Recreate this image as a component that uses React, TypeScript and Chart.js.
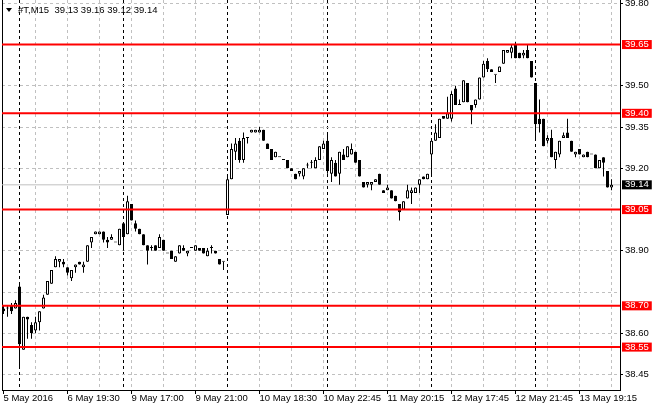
import { useEffect, useRef } from "react"
import { Chart, registerables } from "chart.js"

Chart.register(...registerables)

// #T, M15 candles, one entry per bar (bar index = position on the time axis)
const OPEN = [
  38.69, 38.69, 38.70, 38.69, 38.77, 38.54, 38.66, 38.63, 38.61, 38.64,
  38.69, 38.74, 38.78, 38.84, 38.86, 38.86, 38.84, 38.80, 38.84, 38.86,
  38.84, 38.86, 38.93, 38.96, 38.96, 38.97, 38.94, 38.94, 38.93, 38.92,
  39.00, 38.96, 39.07, 39.00, 38.98, 38.96, 38.92, 38.91, 38.92, 38.91,
  38.94, 38.89, 38.90, 38.86, 38.89, 38.91, 38.89, 38.91, 38.90, 38.91,
  38.91, 38.88, 38.91, 38.90, 38.87, 38.86, 39.03, 39.16, 39.26, 39.30,
  39.23, 39.31, 39.33, 39.33, 39.33, 39.34, 39.29, 39.27, 39.24, 39.24,
  39.23, 39.23, 39.20, 39.18, 39.18, 39.17, 39.21, 39.22, 39.20, 39.23,
  39.27, 39.30, 39.18, 39.22, 39.18, 39.25, 39.24, 39.25, 39.26, 39.23,
  39.15, 39.14, 39.14, 39.15, 39.18, 39.12, 39.12, 39.12, 39.10, 39.07,
  39.05, 39.09, 39.11, 39.11, 39.14, 39.17, 39.16, 39.25, 39.30, 39.31,
  39.39, 39.38, 39.38, 39.49, 39.43, 39.44, 39.51, 39.43, 39.43, 39.45,
  39.53, 39.59, 39.56, 39.54, 39.55, 39.58, 39.62, 39.62, 39.65, 39.62,
  39.61, 39.63, 39.59, 39.51, 39.38, 39.38, 39.30, 39.31, 39.23, 39.25,
  39.31, 39.33, 39.30, 39.25, 39.27, 39.24, 39.26, 39.25, 39.25, 39.20,
  39.24, 39.19, 39.13,
]
const HIGH = [
  38.70, 38.70, 38.71, 38.72, 38.78, 38.66, 38.66, 38.64, 38.66, 38.68,
  38.74, 38.79, 38.83, 38.88, 38.87, 38.87, 38.84, 38.83, 38.85, 38.86,
  38.86, 38.92, 38.95, 38.97, 38.97, 38.97, 38.95, 38.96, 38.93, 38.98,
  39.00, 39.10, 39.07, 39.01, 38.98, 38.96, 38.92, 38.92, 38.92, 38.96,
  38.94, 38.89, 38.90, 38.88, 38.92, 38.92, 38.90, 38.91, 38.92, 38.91,
  38.91, 38.91, 38.92, 38.90, 38.87, 38.86, 39.17, 39.29, 39.31, 39.31,
  39.33, 39.31, 39.34, 39.34, 39.35, 39.34, 39.29, 39.27, 39.26, 39.24,
  39.23, 39.23, 39.20, 39.18, 39.19, 39.20, 39.22, 39.23, 39.24, 39.28,
  39.30, 39.33, 39.24, 39.23, 39.26, 39.27, 39.28, 39.29, 39.26, 39.23,
  39.15, 39.15, 39.15, 39.16, 39.18, 39.12, 39.14, 39.12, 39.10, 39.07,
  39.08, 39.14, 39.13, 39.13, 39.16, 39.17, 39.18, 39.30, 39.36, 39.38,
  39.39, 39.46, 39.48, 39.50, 39.45, 39.52, 39.51, 39.43, 39.45, 39.53,
  39.59, 39.60, 39.56, 39.54, 39.57, 39.63, 39.63, 39.65, 39.66, 39.62,
  39.63, 39.65, 39.59, 39.51, 39.45, 39.38, 39.32, 39.34, 39.26, 39.30,
  39.33, 39.38, 39.30, 39.26, 39.27, 39.25, 39.26, 39.25, 39.25, 39.23,
  39.24, 39.19, 39.16,
]
const LOW = [
  38.67, 38.66, 38.67, 38.69, 38.47, 38.54, 38.58, 38.58, 38.60, 38.61,
  38.69, 38.74, 38.78, 38.84, 38.84, 38.84, 38.81, 38.79, 38.82, 38.85,
  38.82, 38.86, 38.91, 38.96, 38.96, 38.93, 38.91, 38.94, 38.93, 38.92,
  38.90, 38.96, 39.01, 38.97, 38.96, 38.92, 38.85, 38.90, 38.90, 38.91,
  38.90, 38.89, 38.87, 38.86, 38.89, 38.90, 38.88, 38.91, 38.90, 38.90,
  38.89, 38.88, 38.89, 38.89, 38.85, 38.83, 39.03, 39.16, 39.23, 39.22,
  39.22, 39.29, 39.33, 39.33, 39.33, 39.30, 39.27, 39.23, 39.24, 39.24,
  39.23, 39.20, 39.19, 39.16, 39.17, 39.16, 39.20, 39.20, 39.20, 39.23,
  39.27, 39.18, 39.15, 39.17, 39.14, 39.23, 39.24, 39.25, 39.22, 39.17,
  39.13, 39.13, 39.12, 39.15, 39.14, 39.11, 39.12, 39.09, 39.08, 39.01,
  39.05, 39.09, 39.07, 39.11, 39.11, 39.16, 39.16, 39.17, 39.30, 39.31,
  39.38, 39.38, 39.37, 39.43, 39.43, 39.44, 39.44, 39.36, 39.42, 39.45,
  39.53, 39.55, 39.55, 39.51, 39.55, 39.58, 39.62, 39.60, 39.60, 39.60,
  39.60, 39.60, 39.53, 39.31, 39.33, 39.28, 39.29, 39.24, 39.20, 39.24,
  39.31, 39.31, 39.26, 39.24, 39.25, 39.24, 39.24, 39.25, 39.20, 39.20,
  39.17, 39.13, 39.12,
]
const CLOSE = [
  38.68, 38.69, 38.68, 38.71, 38.56, 38.66, 38.65, 38.60, 38.64, 38.68,
  38.73, 38.79, 38.83, 38.87, 38.87, 38.85, 38.82, 38.83, 38.85, 38.85,
  38.85, 38.92, 38.95, 38.97, 38.97, 38.94, 38.93, 38.95, 38.93, 38.98,
  38.95, 39.08, 39.01, 38.98, 38.96, 38.92, 38.90, 38.91, 38.90, 38.95,
  38.90, 38.89, 38.87, 38.88, 38.92, 38.90, 38.90, 38.91, 38.92, 38.90,
  38.89, 38.90, 38.91, 38.89, 38.85, 38.86, 39.16, 39.27, 39.29, 39.23,
  39.31, 39.31, 39.34, 39.34, 39.34, 39.30, 39.27, 39.23, 39.26, 39.24,
  39.23, 39.20, 39.19, 39.16, 39.19, 39.20, 39.21, 39.22, 39.23, 39.28,
  39.29, 39.19, 39.23, 39.17, 39.26, 39.23, 39.28, 39.27, 39.22, 39.17,
  39.13, 39.15, 39.15, 39.16, 39.14, 39.11, 39.13, 39.09, 39.08, 39.04,
  39.08, 39.12, 39.12, 39.13, 39.16, 39.16, 39.18, 39.30, 39.33, 39.38,
  39.38, 39.40, 39.47, 39.43, 39.43, 39.52, 39.44, 39.41, 39.45, 39.53,
  39.58, 39.56, 39.55, 39.54, 39.57, 39.63, 39.63, 39.64, 39.60, 39.60,
  39.62, 39.60, 39.53, 39.36, 39.36, 39.28, 39.31, 39.24, 39.26, 39.30,
  39.32, 39.31, 39.26, 39.26, 39.25, 39.25, 39.24, 39.25, 39.20, 39.23,
  39.22, 39.13, 39.14,
]

// time axis
const GRID_BARS = [0, 8, 16, 24, 32, 40, 48, 56, 64, 72, 80, 88, 96, 104, 112, 120, 128, 136, 144, 152]
const DAY_START_BARS = [4, 30, 56, 81, 107, 133]
const LABEL_BARS = [0, 16, 32, 48, 64, 80, 96, 112, 128, 144]
const TIME_LABELS = [
  "5 May 2016", "6 May 19:30", "9 May 17:00", "9 May 21:00", "10 May 18:30",
  "10 May 22:45", "11 May 20:15", "12 May 17:45", "12 May 21:45", "13 May 19:15",
]

// price axis
const PRICE_GRID = [39.8, 39.65, 39.5, 39.35, 39.2, 39.05, 38.9, 38.75, 38.6, 38.45]
const HIDDEN_PRICES = [38.75]
const LEVELS = [39.65, 39.4, 39.05, 38.7, 38.55]
const BID = 39.14

const TITLE = "#T,M15  39.13 39.16 39.12 39.14"

const X_MIN = -0.375
const X_MAX = 154.125
const Y_MIN = 38.394
const Y_MAX = 39.812

const FONT = { family: "'Liberation Sans', Arial, sans-serif", size: 9.5, lineHeight: 0.95 }
const GRID_GRAY = "#c0c0c0"

const near = (a: number, b: number) => Math.abs(a - b) < 1e-6
const inList = (list: number[], v: number) => list.some((x) => near(x, v))

export default function App() {
  const canvasRef = useRef<HTMLCanvasElement>(null)

  useEffect(() => {
    const canvas = canvasRef.current
    if (!canvas) return

    const bodies = OPEN.map((o, i) => ({ x: i, y: [o, CLOSE[i]] }))
    const wicks = LOW.map((l, i) => ({ x: i, y: [l, HIGH[i]] }))
    const bodyFill = OPEN.map((o, i) => (CLOSE[i] > o ? "#ffffff" : "#000000"))

    const xTicks = [...new Set([...GRID_BARS, ...DAY_START_BARS])].sort((a, b) => a - b)
    const yTicks = [...PRICE_GRID, ...LEVELS, BID]
      .filter((v, i, arr) => arr.findIndex((w) => near(w, v)) === i)
      .sort((a, b) => a - b)

    const levelSets: any[] = LEVELS.map((lvl) => ({
      type: "line",
      data: [
        { x: X_MIN, y: lvl },
        { x: X_MAX, y: lvl },
      ],
      borderColor: "#ff0000",
      borderWidth: 2,
      pointRadius: 0,
      order: 0,
    }))

    const chart = new Chart(canvas, {
      type: "bar",
      data: {
        datasets: [
          ...levelSets,
          {
            type: "bar",
            data: bodies as any,
            backgroundColor: bodyFill,
            borderColor: "#000000",
            borderWidth: 1,
            borderSkipped: false,
            inflateAmount: 0,
            minBarLength: 1,
            maxBarThickness: 3,
            barPercentage: 1,
            categoryPercentage: 1,
            grouped: false,
            order: 1,
          },
          {
            type: "bar",
            data: wicks as any,
            backgroundColor: "#000000",
            borderWidth: 0,
            inflateAmount: 0,
            maxBarThickness: 1,
            barPercentage: 1,
            categoryPercentage: 1,
            grouped: false,
            order: 2,
          },
          {
            type: "line",
            data: [
              { x: X_MIN, y: BID },
              { x: X_MAX, y: BID },
            ],
            borderColor: GRID_GRAY,
            borderWidth: 1,
            pointRadius: 0,
            order: 3,
          },
        ] as any,
      },
      options: {
        responsive: false,
        animation: false,
        events: [],
        layout: { padding: { left: 2, top: 0, right: 0, bottom: 0 }, autoPadding: false },
        plugins: { legend: { display: false }, tooltip: { enabled: false } },
        scales: {
          x: {
            type: "linear",
            min: X_MIN,
            max: X_MAX,
            offset: false,
            afterBuildTicks: (scale: any) => {
              scale.ticks = xTicks.map((value) => ({ value }))
            },
            afterFit: (scale: any) => {
              scale.height = 20
              scale.paddingLeft = 0
              scale.paddingRight = 0
            },
            ticks: {
              autoSkip: false,
              maxRotation: 0,
              minRotation: 0,
              align: "start",
              padding: 0,
              color: "#000",
              font: FONT,
              callback: (value: any) => {
                const k = LABEL_BARS.indexOf(Number(value))
                return k >= 0 ? TIME_LABELS[k] : ""
              },
            },
            grid: {
              offset: false,
              color: (ctx: any) => {
                const v = ctx.tick?.value
                if (DAY_START_BARS.includes(v)) return "#000000"
                if (v === 0) return "rgba(0,0,0,0)"
                return GRID_GRAY
              },
              tickColor: (ctx: any) => (LABEL_BARS.includes(ctx.tick?.value) ? "#000000" : "rgba(0,0,0,0)"),
              tickLength: 4,
              tickBorderDash: [],
            },
            border: { color: "#000", dash: [3, 3] },
          },
          y: {
            type: "linear",
            position: "right",
            min: Y_MIN,
            max: Y_MAX,
            afterBuildTicks: (scale: any) => {
              scale.ticks = yTicks.map((value) => ({ value }))
            },
            afterFit: (scale: any) => {
              scale.width = 40
              scale.paddingTop = 0
              scale.paddingBottom = 0
            },
            ticks: {
              autoSkip: false,
              padding: 2,
              font: FONT,
              showLabelBackdrop: true,
              backdropPadding: { left: 3, right: 3, top: 0, bottom: 0 },
              backdropColor: (ctx: any) => {
                const v = ctx.tick?.value
                if (inList(LEVELS, v)) return "#ff0000"
                if (near(v, BID)) return "#000000"
                return "rgba(0,0,0,0)"
              },
              color: (ctx: any) => {
                const v = ctx.tick?.value
                return inList(LEVELS, v) || near(v, BID) ? "#ffffff" : "#000000"
              },
              callback: (value: any) => (inList(HIDDEN_PRICES, Number(value)) ? "" : Number(value).toFixed(2)),
            },
            grid: {
              color: (ctx: any) => (inList(PRICE_GRID, ctx.tick?.value) ? GRID_GRAY : "rgba(0,0,0,0)"),
              tickColor: (ctx: any) => {
                const v = ctx.tick?.value
                return inList(PRICE_GRID, v) && !inList(LEVELS, v) && !inList(HIDDEN_PRICES, v) ? "#000" : "rgba(0,0,0,0)"
              },
              tickLength: 3,
              tickBorderDash: [],
            },
            border: { color: "#000", dash: [3, 3] },
          },
          yFrame: {
            type: "linear",
            position: "left",
            display: true,
            ticks: { display: false },
            grid: { drawOnChartArea: false, drawTicks: false },
            border: { display: true, color: "#000" },
            afterFit: (scale: any) => {
              scale.width = 0
              scale.paddingTop = 0
              scale.paddingBottom = 0
            },
          },
        },
      } as any,
    })

    return () => {
      chart.destroy()
    }
  }, [])

  return (
    <div style={{ position: "absolute", left: 0, top: 0, width: 660, height: 410, background: "#fff", overflow: "hidden" }}>
      <canvas ref={canvasRef} width={660} height={410} style={{ display: "block" }} />
      <div
        style={{
          position: "absolute",
          left: 6,
          top: 8,
          width: 0,
          height: 0,
          borderLeft: "3px solid transparent",
          borderRight: "3px solid transparent",
          borderTop: "4px solid #000",
        }}
      />
      <div
        style={{
          position: "absolute",
          left: 18,
          top: 4,
          font: "9.5px 'Liberation Sans', Arial, sans-serif",
          lineHeight: "11px",
          whiteSpace: "pre",
          color: "#000",
        }}
      >
        {TITLE}
      </div>
    </div>
  )
}
